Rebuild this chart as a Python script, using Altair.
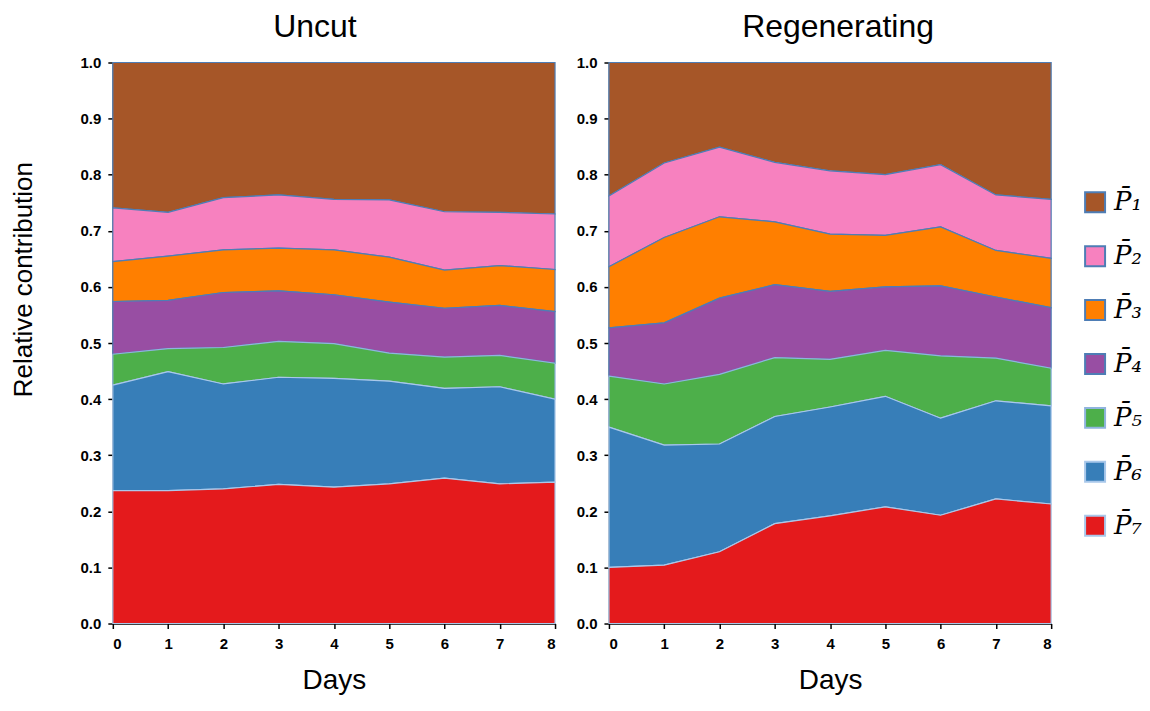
import altair as alt
import pandas as pd

days = [0, 1, 2, 3, 4, 5, 6, 7, 8]
series = ["P̄₁", "P̄₂", "P̄₃", "P̄₄", "P̄₅", "P̄₆", "P̄₇"]
fill_colors = ["#A65628", "#F781BF", "#FF7F00", "#984EA3", "#4DAF4A", "#377EB8", "#E41A1C"]
edge_colors = ["#4E7DB5", "#4E7DB5", "#4E7DB5", "#4E7DB5", "#8FB4DE", "#A9C8EA", "#A9C8EA"]

# Upper edge of each band (cumulative relative contribution)
uncut_p7 = [0.237, 0.237, 0.240, 0.248, 0.243, 0.249, 0.259, 0.249, 0.252]
uncut_p6 = [0.425, 0.449, 0.427, 0.439, 0.437, 0.432, 0.419, 0.422, 0.400]
uncut_p5 = [0.480, 0.490, 0.492, 0.503, 0.499, 0.482, 0.475, 0.478, 0.464]
uncut_p4 = [0.574, 0.576, 0.590, 0.593, 0.586, 0.573, 0.562, 0.567, 0.556]
uncut_p3 = [0.645, 0.655, 0.666, 0.669, 0.666, 0.653, 0.630, 0.638, 0.631]
uncut_p2 = [0.741, 0.733, 0.759, 0.764, 0.756, 0.755, 0.734, 0.733, 0.730]
uncut_p1 = [1.0, 1.0, 1.0, 1.0, 1.0, 1.0, 1.0, 1.0, 1.0]

regen_p7 = [0.100, 0.104, 0.128, 0.178, 0.192, 0.208, 0.193, 0.222, 0.213]
regen_p6 = [0.350, 0.318, 0.320, 0.369, 0.386, 0.405, 0.366, 0.397, 0.388]
regen_p5 = [0.441, 0.427, 0.444, 0.474, 0.471, 0.487, 0.477, 0.473, 0.455]
regen_p4 = [0.527, 0.536, 0.580, 0.604, 0.592, 0.600, 0.602, 0.582, 0.563]
regen_p3 = [0.636, 0.688, 0.725, 0.716, 0.694, 0.692, 0.707, 0.665, 0.651]
regen_p2 = [0.762, 0.821, 0.849, 0.822, 0.807, 0.800, 0.818, 0.764, 0.756]
regen_p1 = [1.0, 1.0, 1.0, 1.0, 1.0, 1.0, 1.0, 1.0, 1.0]

panels = {
    "Uncut": [uncut_p1, uncut_p2, uncut_p3, uncut_p4, uncut_p5, uncut_p6, uncut_p7],
    "Regenerating": [regen_p1, regen_p2, regen_p3, regen_p4, regen_p5, regen_p6, regen_p7],
}

rows = []
for panel, tops in panels.items():
    for i, s in enumerate(series):
        upper = tops[i]
        lower = tops[i + 1] if i + 1 < len(tops) else [0.0] * len(days)
        for d, u, l in zip(days, upper, lower):
            rows.append({"panel": panel, "series": s, "order": i, "day": d, "upper": u, "lower": l})
df = pd.DataFrame(rows)

FONT = "Liberation Sans"


def panel_chart(name, show_title, dx):
    y_axis = alt.Axis(
        values=[round(v * 0.1, 1) for v in range(11)], format=".1f",
        title="Relative contribution" if show_title else None,
        labelFontWeight="bold", labelFontSize=15, labelFont=FONT, labelColor="#000",
        tickSize=5, labelPadding=7, domainColor="#000", tickColor="#000",
        domainWidth=1.5, tickWidth=1.5, grid=False,
        titleFont=FONT, titleFontSize=26, titleFontWeight="normal", titleColor="#000",
        titleAngle=-90, titleX=-89, titleY=217, titleBaseline="middle", titleAlign="center",
    )
    x_axis = alt.Axis(
        values=days, format="d", title="Days",
        labelFontWeight="bold", labelFontSize=15, labelFont=FONT, labelColor="#000",
        tickSize=5, labelPadding=8, domainColor="#000", tickColor="#000",
        domainWidth=1.5, tickWidth=1.5, grid=False,
        titleFont=FONT, titleFontSize=28, titleFontWeight="normal", titleColor="#000",
        titlePadding=15,
    )
    return (
        alt.Chart(df)
        .transform_filter(alt.datum.panel == name)
        .mark_area(strokeWidth=1.2, interpolate="linear")
        .encode(
            x=alt.X("day:Q", scale=alt.Scale(domain=[0, 8], nice=False, zero=False), axis=x_axis),
            y=alt.Y("upper:Q", scale=alt.Scale(domain=[0, 1], nice=False), axis=y_axis),
            y2="lower:Q",
            color=alt.Color(
                "series:N",
                scale=alt.Scale(domain=series, range=fill_colors),
                legend=alt.Legend(
                    title=None, orient="none", legendX=971, legendY=127,
                    symbolType="square", symbolSize=400, symbolStrokeWidth=2,
                    symbolStrokeColor="#4E7DB5", symbolOpacity=1,
                    labelFont="DejaVu Serif", labelFontStyle="italic", labelFontSize=26,
                    labelColor="#000", rowPadding=26, labelOffset=6, labelLimit=200,
                ),
            ),
            stroke=alt.Stroke("series:N", scale=alt.Scale(domain=series, range=edge_colors), legend=None),
            order=alt.Order("order:Q", sort="descending"),
        )
        .properties(
            width=443, height=562,
            title=alt.TitleParams(name, fontSize=32, font=FONT, fontWeight="normal",
                                  color="#000", dx=dx, offset=12),
        )
    )


left = panel_chart("Uncut", True, -19)
right = panel_chart("Regenerating", False, 8)

chart = (
    alt.hconcat(left, right, spacing=18)
    .properties(padding={"left": 3, "top": 2, "right": 0, "bottom": 0})
    .configure_view(stroke=None)
    .configure_legend(symbolStrokeColor="#4E7DB5")
)

chart.save("out.html", embed_options={"renderer": "svg", "actions": False})
